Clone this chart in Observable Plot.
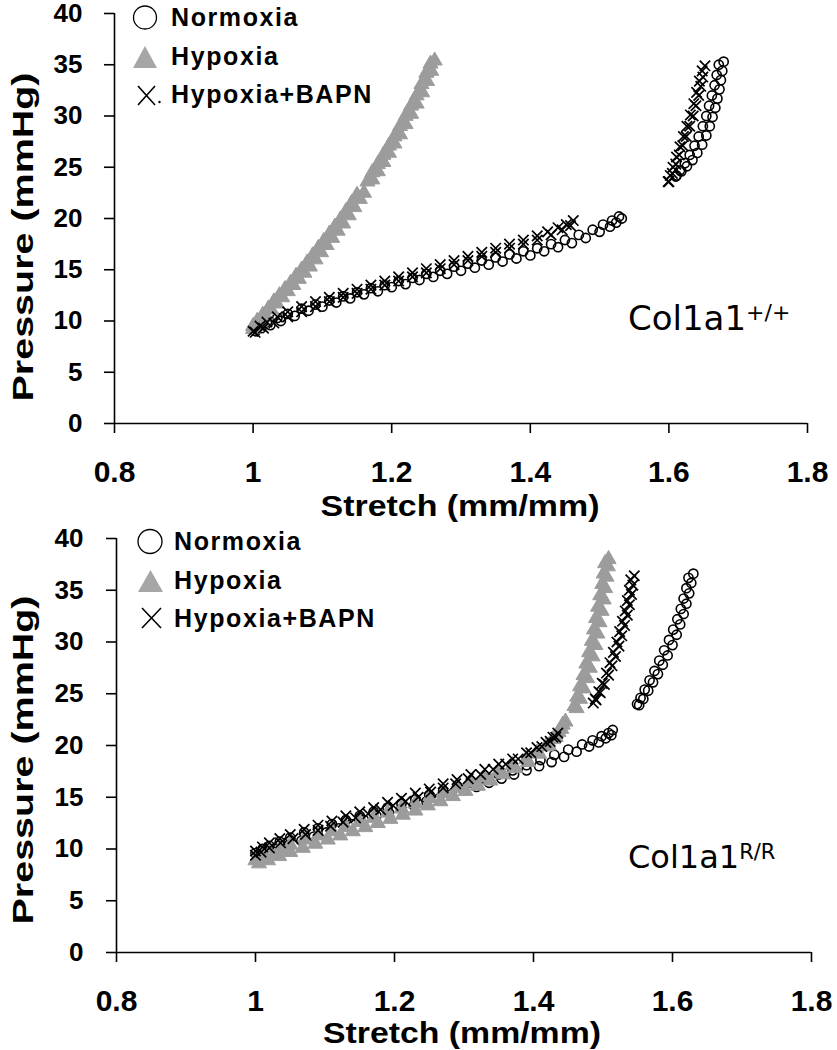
<!DOCTYPE html>
<html>
<head>
<meta charset="utf-8">
<script src="https://cdn.jsdelivr.net/npm/d3@7"></script>
<script src="https://cdn.jsdelivr.net/npm/@observablehq/plot@0.6"></script>
<style>
  body { margin: 0; background: #fff; }
  #wrap { position: relative; width: 837px; height: 1050px; overflow: hidden; background: #fff; }
  .panel { position: absolute; left: 0; width: 837px; }
  .panel svg { overflow: visible; }
  .panel svg text { font-weight: bold; }
  #overlay { position: absolute; left: 0; top: 0; pointer-events: none; }
  .ttl { font-family: "Liberation Sans", Arial, sans-serif; font-weight: bold; font-size: 30px; fill: #000; }
  .leg { font-family: "Liberation Sans", Arial, sans-serif; font-weight: bold; font-size: 25px; letter-spacing: 1.6px; fill: #000; }
  .ann { font-family: "DejaVu Sans", Verdana, sans-serif; fill: #000; }
</style>
</head>
<body>
<div id="wrap">
  <div class="panel" id="top" style="top:0;height:525px"></div>
  <div class="panel" id="bottom" style="top:515px;height:535px"></div>
  <svg id="overlay" width="837" height="1050">
    <!-- top panel labels -->
    <text class="ttl" transform="translate(33,237) rotate(-90)" text-anchor="middle" textLength="329" lengthAdjust="spacingAndGlyphs">Pressure (mmHg)</text>
    <text class="ttl" x="460" y="516" text-anchor="middle" textLength="279" lengthAdjust="spacingAndGlyphs">Stretch (mm/mm)</text>
    <circle cx="145" cy="17.5" r="11.5" fill="none" stroke="#000" stroke-width="1.3"></circle>
    <text class="leg" x="171" y="26">Normoxia</text>
    <polygon points="133,68 157,68 145,46" fill="#a6a6a6"></polygon>
    <text class="leg" x="171" y="65">Hypoxia</text>
    <path d="M138,86 L155,105 M155,86 L138,105" stroke="#000" stroke-width="1.6" fill="none"></path>
    <circle cx="159.5" cy="102" r="1.2" fill="#000"></circle>
    <text class="leg" x="171" y="103">Hypoxia+BAPN</text>
    <text class="ann" x="628" y="330" font-size="34">Col1a1<tspan font-size="22" dy="-10">+/+</tspan></text>
    <!-- bottom panel labels -->
    <text class="ttl" transform="translate(33,760) rotate(-90)" text-anchor="middle" textLength="329" lengthAdjust="spacingAndGlyphs">Pressure (mmHg)</text>
    <text class="ttl" x="462" y="1043" text-anchor="middle" textLength="278" lengthAdjust="spacingAndGlyphs">Stretch (mm/mm)</text>
    <circle cx="150" cy="541.5" r="12" fill="none" stroke="#000" stroke-width="1.3"></circle>
    <text class="leg" x="174" y="550">Normoxia</text>
    <polygon points="138,592 163,592 150.5,570" fill="#a6a6a6"></polygon>
    <text class="leg" x="174" y="589">Hypoxia</text>
    <path d="M142,608 L161,628 M161,608 L142,628" stroke="#000" stroke-width="1.6" fill="none"></path>
    <text class="leg" x="174" y="627">Hypoxia+BAPN</text>
    <text class="ann" x="628" y="868" font-size="32">Col1a1<tspan font-size="21" dy="-9">R/R</tspan></text>
  </svg>
</div>
<script>
// ---------- axes ----------
const xDomain = [0.8, 1.8];
const yDomain = [0, 40];
const xTicks = [0.8, 1, 1.2, 1.4, 1.6, 1.8];
const yTicks = [0, 5, 10, 15, 20, 25, 30, 35, 40];
const seriesNames = ["Normoxia", "Hypoxia", "Hypoxia+BAPN"];

// ---------- Col1a1+/+ (top panel) ----------
const topNormoxiaStretch = [
  1.000,1.010,1.020,1.035,1.050,1.070,1.090,1.110,1.130,1.150,1.170,1.190,1.210,1.230,1.250,1.270,1.290,1.310,1.330,1.350,1.370,1.390,1.410,1.430,1.450,1.470,1.490,1.505,1.518,1.528,
  1.532,1.524,1.515,1.500,1.480,1.460,1.440,1.420,1.400,1.380,1.360,1.340,1.320,1.300,1.280,1.260,1.240,1.220,1.200,1.180,1.160,1.140,1.120,1.100,1.080,1.060,1.040,1.025,1.012,1.004,
  1.611,1.618,1.626,1.634,1.641,1.648,1.654,1.659,1.663,1.667,1.670,1.673,1.675,1.677,1.679,
  1.672,1.669,1.666,1.662,1.658,1.654,1.649,1.643,1.637,1.630,1.623,1.616,1.610];
const topNormoxiaPressure = [
  9.2,9.6,9.9,10.3,10.7,11.2,11.6,12.0,12.4,12.8,13.2,13.5,13.9,14.2,14.6,14.9,15.3,15.6,15.9,16.2,16.5,16.8,17.1,17.5,17.9,18.4,18.9,19.4,19.8,20.2,
  20.0,19.6,19.2,18.7,18.1,17.6,17.2,16.8,16.4,16.1,15.8,15.5,15.2,14.9,14.6,14.3,14.0,13.6,13.3,12.9,12.6,12.2,11.8,11.4,11.0,10.5,10.0,9.6,9.3,9.0,
  24.2,24.6,25.1,25.7,26.4,27.2,28.1,29.0,29.9,30.8,31.7,32.6,33.5,34.4,35.3,
  35.0,34.0,33.0,32.0,31.0,30.0,29.0,28.0,27.1,26.2,25.4,24.7,24.1];

const topHypoxiaStretch = [
  1.000,1.010,1.018,1.026,1.034,1.042,1.050,1.058,1.066,1.074,1.082,1.090,1.098,1.106,1.114,1.122,1.130,1.138,1.146,1.154,1.160,1.172,1.180,1.188,1.196,1.204,1.212,1.220,1.228,1.236,1.244,1.251,1.257,1.262,
  1.256,1.250,1.243,1.236,1.228,1.220,1.212,1.204,1.196,1.188,1.180,1.172,1.165,1.150,1.142,1.134,1.126,1.118,1.110,1.102,1.094,1.086,1.078,1.070,1.062,1.054,1.046,1.038,1.030,1.022,1.014,1.006,1.000];
const topHypoxiaPressure = [
  9.2,9.9,10.5,11.1,11.7,12.3,12.9,13.5,14.1,14.7,15.3,16.0,16.7,17.4,18.1,18.8,19.5,20.3,21.1,21.9,22.5,23.8,24.6,25.5,26.4,27.3,28.2,29.2,30.2,31.2,32.3,33.4,34.4,35.4,
  35.1,34.2,33.1,32.0,31.0,30.0,29.0,28.0,27.1,26.2,25.3,24.5,23.6,22.3,21.5,20.7,19.9,19.2,18.5,17.8,17.1,16.4,15.7,15.0,14.4,13.7,13.1,12.5,11.9,11.2,10.6,10.0,9.5];

const topBapnStretch = [
  1.000,1.010,1.020,1.035,1.050,1.070,1.090,1.110,1.130,1.150,1.170,1.190,1.210,1.230,1.250,1.270,1.290,1.310,1.330,1.350,1.370,1.390,1.410,1.425,1.440,1.452,1.462,
  1.458,1.446,1.430,1.410,1.390,1.370,1.350,1.330,1.310,1.290,1.270,1.250,1.230,1.210,1.190,1.170,1.150,1.130,1.110,1.090,1.070,1.050,1.030,1.015,1.003,
  1.600,1.605,1.610,1.615,1.620,1.625,1.630,1.635,1.639,1.643,1.646,1.649,1.652,
  1.648,1.644,1.640,1.636,1.631,1.626,1.621,1.616,1.611,1.606,1.602,1.599];
const topBapnPressure = [
  9.0,9.5,9.9,10.4,10.9,11.4,11.9,12.3,12.7,13.1,13.5,13.9,14.3,14.7,15.1,15.5,15.9,16.3,16.7,17.1,17.5,17.9,18.3,18.7,19.1,19.4,19.8,
  19.3,18.9,18.4,17.9,17.5,17.1,16.7,16.3,15.9,15.5,15.1,14.7,14.3,13.9,13.5,13.1,12.7,12.3,11.9,11.4,10.9,10.4,9.8,9.3,8.9,
  23.6,24.4,25.3,26.2,27.1,28.0,29.0,30.0,31.0,32.0,32.9,33.8,34.9,
  34.4,33.4,32.3,31.2,30.1,29.0,28.0,27.0,26.0,25.0,24.2,23.6];

// ---------- Col1a1R/R (bottom panel) ----------
const botNormoxiaStretch = [
  1.000,1.010,1.020,1.035,1.050,1.070,1.090,1.110,1.130,1.150,1.170,1.190,1.210,1.230,1.250,1.270,1.290,1.310,1.330,1.350,1.370,1.390,1.410,1.430,1.450,1.470,1.485,1.498,1.508,1.514,
  1.512,1.504,1.494,1.480,1.462,1.444,1.426,1.408,1.390,1.372,1.354,1.336,1.318,1.300,1.282,1.264,1.246,1.228,1.210,1.192,1.174,1.156,1.138,1.120,1.102,1.084,1.066,1.048,1.030,1.015,1.004,
  1.552,1.558,1.565,1.572,1.579,1.586,1.593,1.600,1.606,1.611,1.616,1.620,1.624,1.627,1.630,
  1.623,1.620,1.616,1.612,1.607,1.601,1.595,1.588,1.581,1.574,1.567,1.560,1.554,1.549];
const botNormoxiaPressure = [
  9.6,10.0,10.3,10.7,11.1,11.6,12.0,12.4,12.8,13.2,13.6,14.0,14.4,14.8,15.2,15.6,16.0,16.4,16.8,17.2,17.6,18.1,18.6,19.1,19.6,20.1,20.5,20.9,21.2,21.5,
  21.0,20.7,20.3,19.9,19.4,18.9,18.4,18.0,17.6,17.2,16.8,16.4,16.0,15.7,15.3,14.9,14.6,14.2,13.9,13.5,13.2,12.8,12.4,12.0,11.6,11.2,10.8,10.4,10.0,9.6,9.3,
  23.9,24.5,25.3,26.1,26.9,27.8,28.7,29.7,30.7,31.7,32.7,33.7,34.7,35.7,36.6,
  36.2,35.2,34.2,33.2,32.2,31.2,30.2,29.2,28.2,27.2,26.3,25.4,24.6,24.0];

const botHypoxiaStretch = [
  1.000,1.010,1.020,1.035,1.050,1.070,1.090,1.110,1.130,1.150,1.170,1.190,1.210,1.230,1.250,1.270,1.290,1.310,1.330,1.350,1.370,1.390,1.405,1.418,1.428,1.436,1.442,
  1.446,1.440,1.432,1.422,1.408,1.392,1.374,1.356,1.338,1.320,1.302,1.284,1.266,1.248,1.230,1.212,1.194,1.176,1.158,1.140,1.122,1.104,1.086,1.068,1.050,1.034,1.018,1.005,
  1.462,1.467,1.472,1.477,1.481,1.485,1.489,1.492,1.495,1.498,1.501,1.503,1.505,1.507,1.508,
  1.503,1.501,1.499,1.496,1.493,1.490,1.487,1.484,1.480,1.476,1.472,1.467,1.463,1.459];
const botHypoxiaPressure = [
  8.9,9.3,9.6,10.0,10.4,10.9,11.3,11.7,12.1,12.6,13.0,13.5,13.9,14.4,14.9,15.4,15.9,16.4,16.9,17.5,18.1,18.7,19.3,19.9,20.6,21.3,22.0,
  22.3,21.6,20.8,20.0,19.2,18.4,17.8,17.2,16.6,16.1,15.6,15.1,14.6,14.2,13.7,13.3,12.9,12.5,12.1,11.7,11.3,10.9,10.5,10.1,9.7,9.3,8.9,8.6,
  23.6,24.5,25.5,26.5,27.5,28.6,29.7,30.8,31.9,33.0,34.1,35.2,36.3,37.3,38.0,
  37.6,36.6,35.6,34.5,33.4,32.3,31.2,30.1,29.0,27.9,26.8,25.7,24.7,23.8];

const botBapnStretch = [
  1.000,1.010,1.020,1.035,1.050,1.070,1.090,1.110,1.130,1.150,1.170,1.190,1.210,1.230,1.250,1.270,1.290,1.310,1.330,1.350,1.370,1.390,1.405,1.418,1.428,1.435,
  1.432,1.424,1.412,1.396,1.378,1.360,1.342,1.324,1.306,1.288,1.270,1.252,1.234,1.216,1.198,1.180,1.162,1.144,1.126,1.108,1.090,1.072,1.054,1.036,1.020,1.008,1.000,
  1.490,1.496,1.502,1.508,1.513,1.518,1.523,1.527,1.531,1.535,1.538,1.541,1.543,1.545,
  1.540,1.538,1.535,1.532,1.528,1.524,1.520,1.515,1.510,1.505,1.499,1.494,1.489,1.486];
const botBapnPressure = [
  9.8,10.2,10.6,11.0,11.4,11.9,12.3,12.7,13.2,13.6,14.0,14.5,14.9,15.4,15.8,16.3,16.7,17.2,17.7,18.2,18.7,19.3,19.8,20.3,20.8,21.2,
  20.8,20.4,19.9,19.3,18.7,18.2,17.7,17.2,16.8,16.3,15.9,15.5,15.0,14.6,14.2,13.8,13.4,13.0,12.6,12.2,11.8,11.4,11.0,10.6,10.1,9.7,9.4,
  24.4,25.1,25.9,26.8,27.7,28.6,29.6,30.6,31.6,32.6,33.6,34.6,35.5,36.4,
  36.0,35.0,34.0,33.0,32.0,31.0,30.0,29.0,28.0,27.0,26.0,25.2,24.5,24.1];

// ---------- build ----------
function rows(series, s, p) {
  const n = Math.min(s.length, p.length);
  const out = [];
  for (let i = 0; i < n; i++) out.push({series, stretch: s[i], pressure: p[i]});
  return out;
}

function panel(opts, norm, hyp, bapn) {
  return Plot.plot({
    width: 837,
    height: opts.h,
    marginLeft: opts.ml, marginRight: opts.mr, marginTop: opts.mt, marginBottom: opts.mb,
    x: {domain: xDomain},
    y: {domain: yDomain},
    style: {fontFamily: "'Liberation Sans', Arial, sans-serif", background: "transparent", color: "black", overflow: "visible"},
    marks: [
      Plot.ruleX([xDomain[0]], {y1: yDomain[0], y2: yDomain[1], stroke: "black", strokeWidth: 1.6}),
      Plot.ruleY([yDomain[0]], {x1: xDomain[0], x2: xDomain[1], stroke: "black", strokeWidth: 1.6}),
      Plot.axisY({ticks: yTicks, tickSize: 10, tickPadding: opts.yPad, fontSize: 26, fontWeight: "bold",
                  label: null, tickFormat: d => String(d), strokeWidth: 1.6}),
      Plot.axisX({ticks: xTicks, tickSize: 10, tickPadding: opts.xPad, fontSize: 30, fontWeight: "bold",
                  label: null, tickFormat: d => String(+d.toFixed(1)), strokeWidth: 1.6}),
      Plot.dot(norm, {x: "stretch", y: "pressure", symbol: "circle", r: 4.6, stroke: "black", strokeWidth: 1.6, fill: "none"}),
      Plot.dot(hyp, {x: "stretch", y: "pressure", symbol: "triangle", r: 5.6, fill: "#9c9c9c", stroke: "#9c9c9c", strokeWidth: 1}),
      Plot.dot(bapn, {x: "stretch", y: "pressure", symbol: "times", r: 4.8, stroke: "black", strokeWidth: 1.7})
    ]
  });
}

const topPlot = panel({h: 525, ml: 114, mr: 30, mt: 13, mb: 102, xPad: 27, yPad: 22},
  rows(seriesNames[0], topNormoxiaStretch, topNormoxiaPressure),
  rows(seriesNames[1], topHypoxiaStretch, topHypoxiaPressure),
  rows(seriesNames[2], topBapnStretch, topBapnPressure));
document.getElementById("top").appendChild(topPlot);

const botPlot = panel({h: 535, ml: 116, mr: 26, mt: 23, mb: 98, xPad: 27, yPad: 23},
  rows(seriesNames[0], botNormoxiaStretch, botNormoxiaPressure),
  rows(seriesNames[1], botHypoxiaStretch, botHypoxiaPressure),
  rows(seriesNames[2], botBapnStretch, botBapnPressure));
document.getElementById("bottom").appendChild(botPlot);
</script>
</body>
</html>
